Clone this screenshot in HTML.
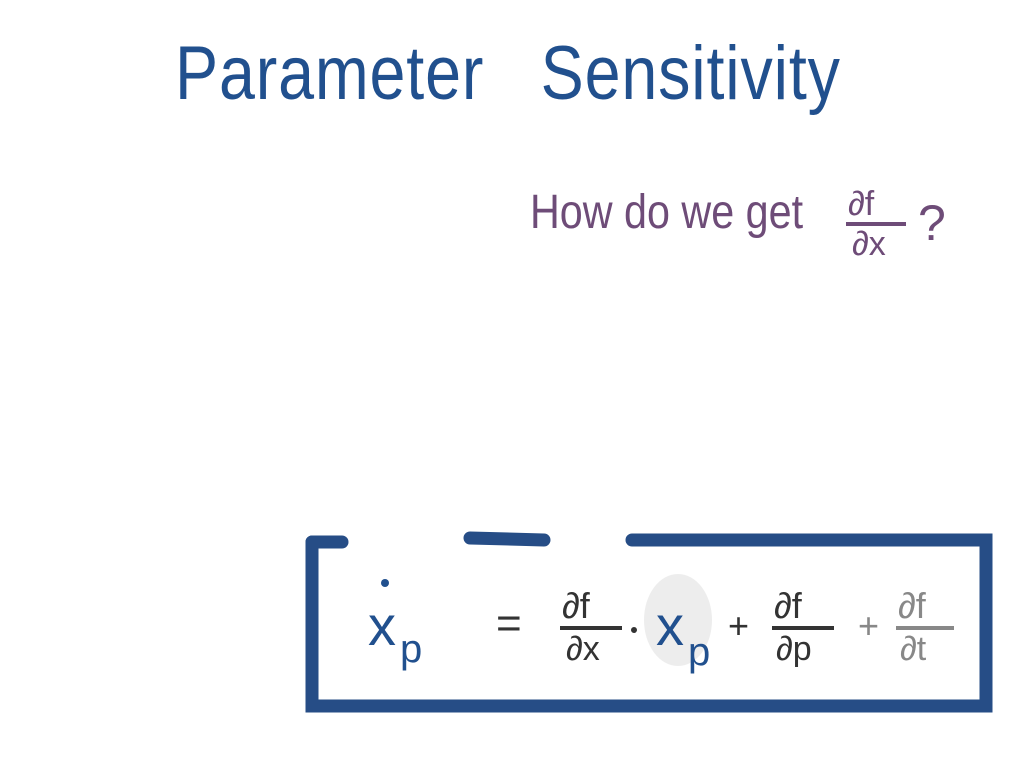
<!DOCTYPE html>
<html><head><meta charset="utf-8"><style>
html,body{margin:0;padding:0;background:#fff;}
body{width:1024px;height:768px;position:relative;overflow:hidden;font-family:"Liberation Sans",sans-serif;}
.t{position:absolute;white-space:nowrap;}
</style></head><body>
<div class="t" style="left:175px;top:30px;font-size:76px;color:#21508e;letter-spacing:1px;transform:scaleX(0.85);transform-origin:left;">Parameter&nbsp;&nbsp;&nbsp;Sensitivity</div>
<div class="t" style="left:530px;top:185px;font-size:48px;color:#6e4c78;transform:scaleX(0.86);transform-origin:left;">How do we get</div>
<svg width="1024" height="768" style="position:absolute;left:0;top:0">
  <g fill="#6e4c78" font-family="Liberation Sans, sans-serif" font-size="34">
    <text x="848" y="215">∂f</text>
    <rect x="846" y="222" width="60" height="4"/>
    <text x="852" y="255">∂x</text>
    <text x="918" y="240" font-size="50">?</text>
  </g>
  <g stroke="#264d86" stroke-width="13" stroke-linecap="round" fill="none">
    <path d="M312 542 L312 706 L986 706 L986 540 L632 540"/>
    <path d="M312 542 L342 542"/>
    <path d="M470 538 L544 540"/>
  </g>
  <ellipse cx="678" cy="620" rx="34" ry="46" fill="#ededed"/>
  <g font-family="Liberation Sans, sans-serif">
    <text x="368" y="645" font-size="56" fill="#21508e">x</text>
    <text x="400" y="662" font-size="40" fill="#21508e">p</text>
    <circle cx="385" cy="583" r="4" fill="#21508e"/>
    <text x="496" y="638" font-size="44" fill="#333">=</text>
    <text x="562" y="618" font-size="36" fill="#333">∂f</text>
    <rect x="560" y="626" width="62" height="4" fill="#333"/>
    <text x="566" y="660" font-size="34" fill="#333">∂x</text>
    <circle cx="634" cy="630" r="3" fill="#333"/>
    <text x="656" y="645" font-size="56" fill="#21508e">x</text>
    <text x="688" y="665" font-size="40" fill="#21508e">p</text>
    <text x="728" y="638" font-size="36" fill="#333">+</text>
    <text x="774" y="618" font-size="36" fill="#333">∂f</text>
    <rect x="772" y="626" width="62" height="4" fill="#333"/>
    <text x="776" y="660" font-size="34" fill="#333">∂p</text>
    <text x="858" y="638" font-size="36" fill="#888">+</text>
    <text x="898" y="618" font-size="36" fill="#888">∂f</text>
    <rect x="896" y="626" width="58" height="4" fill="#888"/>
    <text x="900" y="660" font-size="34" fill="#888">∂t</text>
  </g>
</svg>
</body></html>
